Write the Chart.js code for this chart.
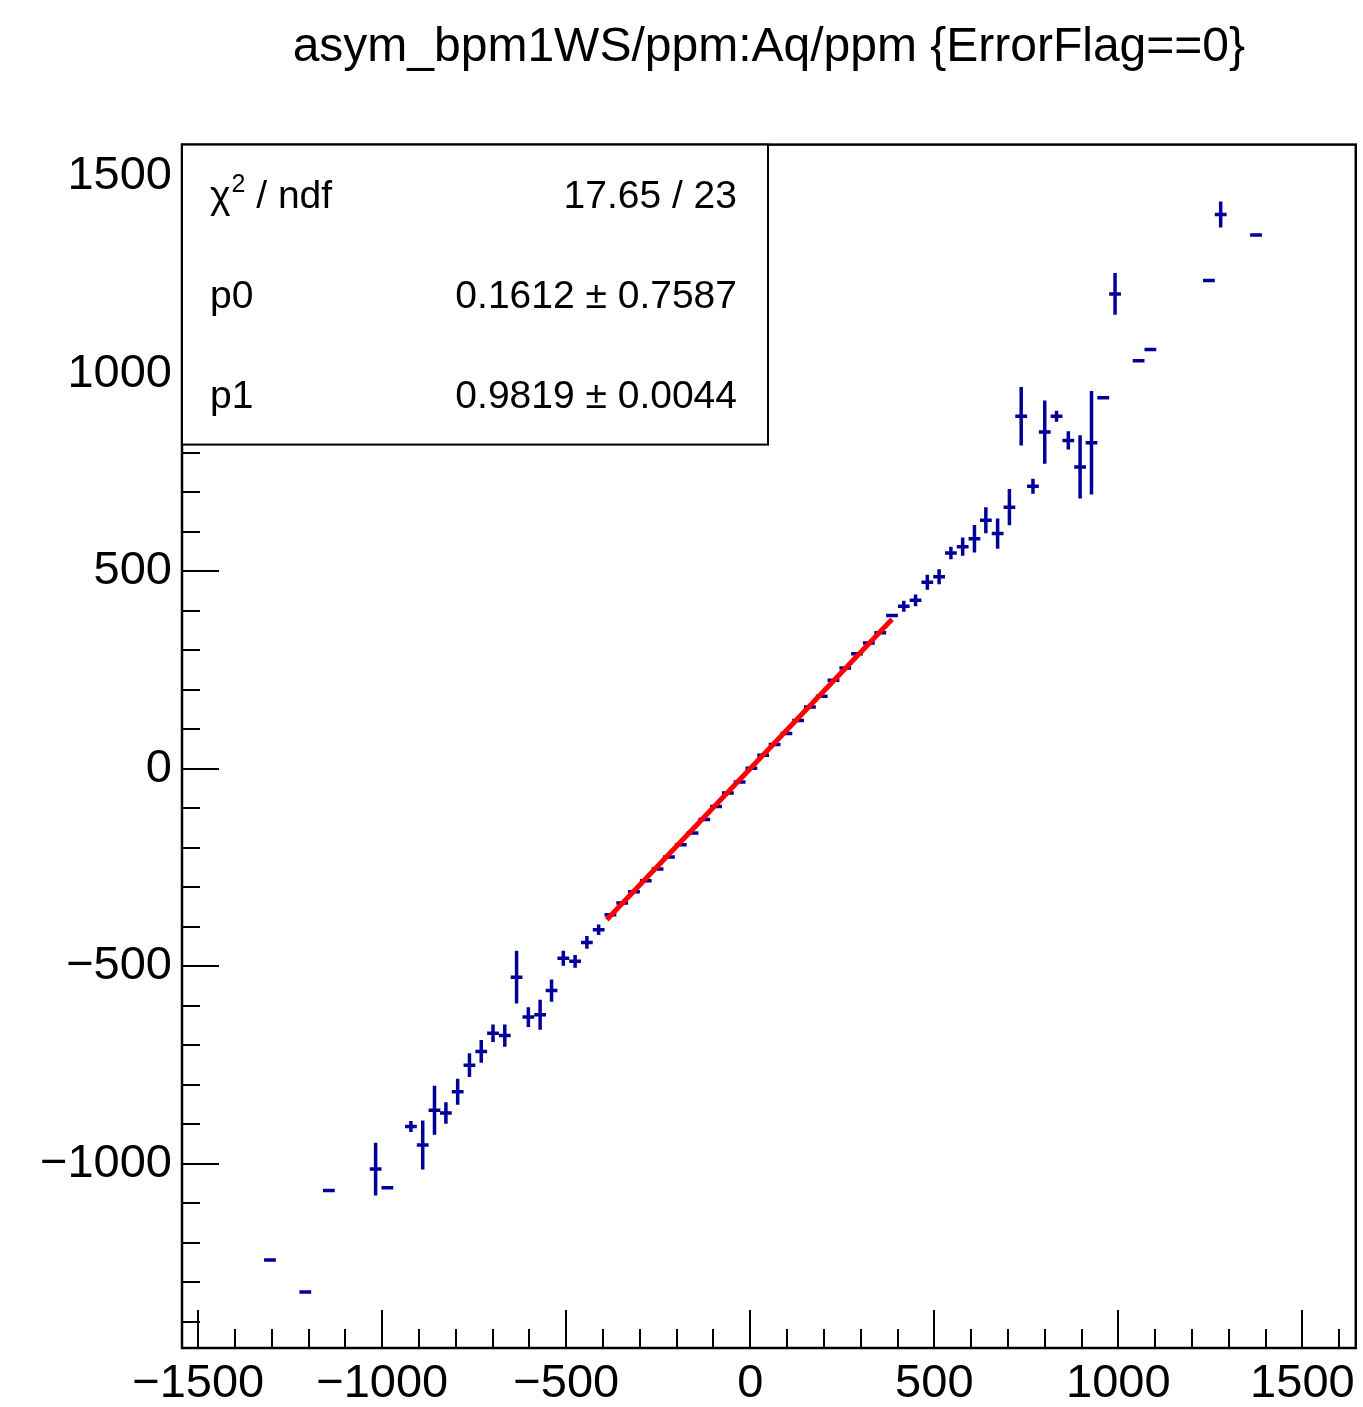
<!DOCTYPE html>
<html>
<head>
<meta charset="utf-8">
<title>asym_bpm1WS/ppm:Aq/ppm {ErrorFlag==0}</title>
<script src="https://cdn.jsdelivr.net/npm/chart.js@4.4.1/dist/chart.umd.min.js"></script>
<style>
  html, body { margin: 0; padding: 0; background: #fff; }
  #plot { display: block; }
</style>
</head>
<body>
<canvas id="plot" width="1363" height="1407"></canvas>
<script>
(function () {
  "use strict";

  // profile bins: centre of Aq bin (ppm), mean asym_bpm1WS (ppm), error on the mean
  var binX = [-1305, -1209, -1145, -1018, -986, -922, -890, -858, -827, -795,
    -763, -731, -699, -667, -635, -603, -571, -540, -508, -476,
    -444, -412, -380, -348, -316, -284, -252, -221, -189, -157,
    -125, -93, -61, -29, 3, 35, 66, 98, 130, 162,
    194, 226, 258, 290, 322, 353, 385, 417, 449, 481,
    513, 545, 577, 609, 640, 672, 704, 736, 768, 800,
    832, 864, 896, 927, 959, 991, 1055, 1087, 1246, 1278, 1374];
  var binY = [-1244, -1325, -1068, -1014, -1061, -906, -953, -865, -872, -818,
    -751, -716, -670, -676, -528, -629, -623, -562, -480, -488,
    -440, -408, -370, -340, -312, -284, -254, -224, -193, -163,
    -129, -96, -62, -34, 1, 34, 61, 89, 122, 156,
    183, 224, 255, 291, 318, 344, 388, 411, 426, 472,
    486, 546, 562, 582, 629, 595, 662, 892, 715, 852,
    892, 831, 764, 825, 939, 1202, 1033, 1061, 1236, 1403, 1351];
  var binErr = [0, 0, 0, 67, 0, 14, 62, 62, 27, 33,
    30, 29, 22, 28, 67, 25, 38, 28, 19, 16,
    16, 13, 3, 3, 3, 3, 3, 3, 3, 3,
    3, 3, 3, 3, 3, 3, 3, 3, 3, 3,
    3, 3, 3, 3, 3, 3, 3, 14, 15, 19,
    19, 16, 23, 35, 33, 38, 46, 74, 19, 80,
    14, 23, 80, 131, 0, 53, 0, 0, 0, 33, 0];
  var binHalfWidth = 16;

  var xTicks = [-1500, -1000, -500, 0, 500, 1000, 1500];
  var yTicks = [-1000, -500, 0, 500, 1000, 1500];
  var xRange = [-1544, 1645];
  var yRange = [-1467, 1580];

  var fitP0 = 0.1612;
  var fitP1 = 0.9819;
  var fitRange = [-390, 385];

  var statsLabels = ["/ ndf", "p0", "p1"];
  var statsValues = ["17.65 / 23", "0.1612 \u00b1 0.7587", "0.9819 \u00b1 0.0044"];

  var BLUE = "#000099";
  var FONT = "'Liberation Sans', Arial, Helvetica, sans-serif";

  function fmt(v) {
    return v < 0 ? "\u2212" + Math.abs(v) : String(v);
  }

  var rootPlugin = {
    id: "rootProfile",
    beforeDatasetsDraw: function (chart) {
      var ctx = chart.ctx;
      var xs = chart.scales.x;
      var ys = chart.scales.y;
      var a = chart.chartArea;
      var v, p;
      ctx.save();
      // inward ticks, ROOT style
      ctx.strokeStyle = "#000";
      ctx.lineWidth = 2;
      ctx.beginPath();
      for (v = Math.ceil(xs.min / 100) * 100; v <= xs.max; v += 100) {
        p = Math.round(xs.getPixelForValue(v));
        ctx.moveTo(p, a.bottom);
        ctx.lineTo(p, a.bottom - (v % 500 === 0 ? 38 : 19));
      }
      for (v = Math.ceil(ys.min / 100) * 100; v <= ys.max; v += 100) {
        p = Math.round(ys.getPixelForValue(v));
        ctx.moveTo(a.left, p);
        ctx.lineTo(a.left + (v % 500 === 0 ? 37 : 18), p);
      }
      ctx.stroke();

      // error bars of the profile
      var meta = chart.getDatasetMeta(0);
      ctx.strokeStyle = BLUE;
      ctx.lineWidth = 3.5;
      ctx.beginPath();
      meta.data.forEach(function (pt, i) {
        ctx.moveTo(xs.getPixelForValue(binX[i] - binHalfWidth), pt.y);
        ctx.lineTo(xs.getPixelForValue(binX[i] + binHalfWidth), pt.y);
        if (binErr[i] > 0) {
          ctx.moveTo(pt.x, ys.getPixelForValue(binY[i] + binErr[i]));
          ctx.lineTo(pt.x, ys.getPixelForValue(binY[i] - binErr[i]));
        }
      });
      ctx.stroke();
      ctx.restore();
    },
    afterDraw: function (chart) {
      var ctx = chart.ctx;
      var a = chart.chartArea;
      ctx.save();
      ctx.strokeStyle = "#000";
      ctx.lineWidth = 2.5;
      ctx.strokeRect(a.left, a.top, a.right - a.left, a.bottom - a.top);

      // stats box
      var bx = a.left, by = a.top, bw = 586, bh = 300;
      ctx.fillStyle = "#fff";
      ctx.fillRect(bx, by, bw, bh);
      ctx.lineWidth = 2;
      ctx.strokeRect(bx, by, bw, bh);
      ctx.fillStyle = "#000";
      ctx.textBaseline = "middle";
      var rowY = [197, 297, 397];
      statsLabels.forEach(function (lab, i) {
        var y = rowY[i];
        ctx.font = "39px " + FONT;
        ctx.textAlign = "left";
        if (i === 0) {
          var cx = bx + 28;
          ctx.fillText("\u03c7", cx, y);
          cx += ctx.measureText("\u03c7").width + 1;
          ctx.font = "25px " + FONT;
          ctx.fillText("2", cx, y - 12);
          cx += ctx.measureText("2").width;
          ctx.font = "39px " + FONT;
          ctx.fillText(" " + lab, cx, y);
        } else {
          ctx.fillText(lab, bx + 28, y);
        }
        ctx.textAlign = "right";
        ctx.fillText(statsValues[i], bx + 555, y);
      });
      ctx.restore();
    }
  };

  Chart.defaults.font.family = FONT;
  Chart.defaults.color = "#000";

  var profilePoints = binX.map(function (x, i) { return { x: x, y: binY[i] }; });
  var fitPoints = fitRange.map(function (x) { return { x: x, y: fitP0 + fitP1 * x }; });

  new Chart(document.getElementById("plot"), {
    type: "scatter",
    data: {
      datasets: [
        {
          label: "asym_bpm1WS/ppm:Aq/ppm",
          data: profilePoints,
          pointRadius: 0,
          borderColor: BLUE,
          backgroundColor: BLUE
        },
        {
          label: "pol1 fit",
          data: fitPoints,
          showLine: true,
          borderColor: "#ff0000",
          borderWidth: 5,
          pointRadius: 0
        }
      ]
    },
    options: {
      responsive: false,
      animation: false,
      events: [],
      layout: { padding: { left: 0, right: 7, top: 0, bottom: 0 } },
      plugins: {
        legend: { display: false },
        tooltip: { enabled: false },
        title: {
          display: true,
          text: "asym_bpm1WS/ppm:Aq/ppm {ErrorFlag==0}",
          fullSize: false,
          color: "#000",
          font: { size: 48, weight: "normal", family: FONT, lineHeight: 1.2 },
          padding: { top: 19, bottom: 68 }
        }
      },
      scales: {
        x: {
          type: "linear",
          min: xRange[0],
          max: xRange[1],
          grid: { display: false, drawTicks: false },
          border: { display: false },
          afterBuildTicks: function (scale) {
            scale.ticks = xTicks.map(function (v) { return { value: v }; });
          },
          afterFit: function (scale) { scale.height = 59; },
          ticks: {
            autoSkip: false,
            maxRotation: 0,
            padding: 8,
            font: { size: 47, family: FONT },
            callback: function (v) { return fmt(v); }
          }
        },
        y: {
          type: "linear",
          min: yRange[0],
          max: yRange[1],
          grid: { display: false, drawTicks: false },
          border: { display: false },
          afterBuildTicks: function (scale) {
            scale.ticks = yTicks.map(function (v) { return { value: v }; });
          },
          afterFit: function (scale) { scale.width = 182; },
          ticks: {
            autoSkip: false,
            padding: 10,
            font: { size: 47, family: FONT },
            callback: function (v) { return fmt(v); }
          }
        }
      }
    },
    plugins: [rootPlugin]
  });
})();
</script>
</body>
</html>
